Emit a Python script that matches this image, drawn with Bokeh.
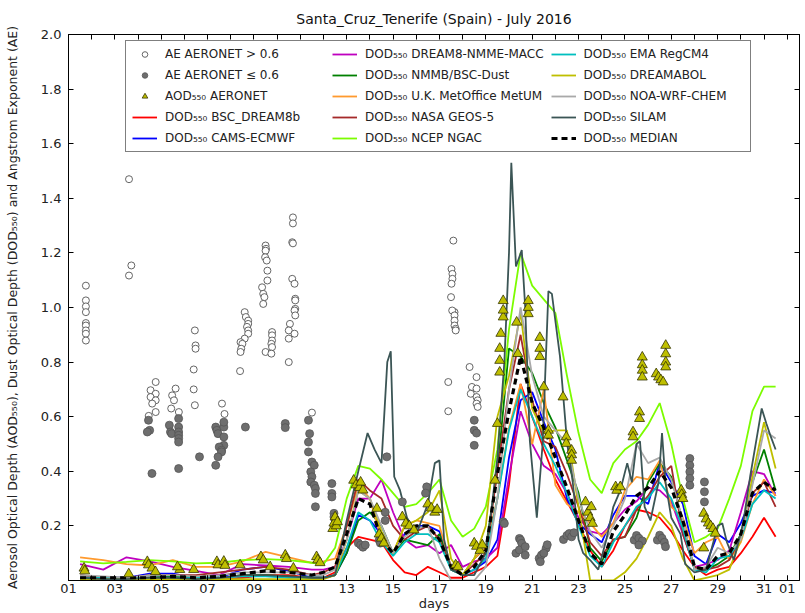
from bokeh.plotting import figure
from bokeh.models import (Range1d, FixedTicker, Legend, LegendItem, LinearAxis,
                          PrintfTickFormatter)
from bokeh.embed import file_html
from bokeh.resources import INLINE

FONT = "DejaVu Sans"

# ---------------- data ----------------
# common time grid (day of July 2016)
days = [1.5, 2.5, 3.5, 4.5, 5.5, 6.5, 7.5, 8.5, 9.5, 10.5, 11.5,
        12, 12.5, 13, 13.5, 14, 14.5, 15, 15.5, 16, 16.5, 17, 17.5, 18, 18.5,
        19, 19.5, 20, 20.5, 21, 21.5, 22, 22.5, 23, 23.5, 24, 24.5, 25, 25.5,
        26, 26.5, 27, 27.5, 28, 28.5, 29, 29.5, 30, 30.5, 31, 31.5]

dod_bsc_dream8b = [0.01, 0.005, 0.005, 0.01, 0.01, 0.005, 0.005, 0.01, 0.02, 0.02, 0.01,
                   0.01, 0.03, 0.12, 0.16, 0.15, 0.14, 0.075, 0.03, 0.02, 0.05, 0.03, 0.01, 0.01, 0.03,
                   0.05, 0.09, 0.35, 0.72, 0.6, 0.48, 0.37, 0.29, 0.21, 0.11, 0.05, 0.11, 0.2, 0.26,
                   0.25, 0.23, 0.18, 0.11, 0.05, 0.02, 0.04, 0.05, 0.1, 0.16, 0.23, 0.16]
dod_cams = [0.01, 0.01, 0.01, 0.025, 0.025, 0.01, 0.01, 0.04, 0.05, 0.035, 0.01,
            0.01, 0.02, 0.1, 0.24, 0.22, 0.17, 0.1, 0.17, 0.2, 0.2, 0.18, 0.05, 0.02, 0.04,
            0.07, 0.15, 0.45, 0.66, 0.69, 0.58, 0.48, 0.3, 0.21, 0.17, 0.14, 0.24, 0.31, 0.31,
            0.28, 0.43, 0.36, 0.28, 0.09, 0.06, 0.17, 0.14, 0.21, 0.31, 0.33, 0.32]
dod_dream8_macc = [0.06, 0.04, 0.085, 0.07, 0.05, 0.035, 0.02, 0.06, 0.055, 0.05, 0.04,
                   0.04, 0.05, 0.15, 0.3, 0.3, 0.37, 0.25, 0.15, 0.12, 0.13, 0.1, 0.13, 0.05, 0.07,
                   0.08, 0.12, 0.38, 0.62, 0.5, 0.42, 0.39, 0.32, 0.23, 0.18, 0.17, 0.21, 0.26, 0.29,
                   0.34, 0.33, 0.29, 0.17, 0.05, 0.06, 0.075, 0.11, 0.25, 0.4, 0.39, 0.31]
dod_nmmb = [0.005, 0.005, 0.005, 0.01, 0.015, 0.01, 0.01, 0.02, 0.02, 0.015, 0.01,
            0.01, 0.02, 0.1, 0.22, 0.25, 0.2, 0.1, 0.15, 0.14, 0.13, 0.17, 0.04, 0.02, 0.08,
            0.12, 0.4, 0.85, 0.82, 0.76, 0.65, 0.56, 0.44, 0.32, 0.12, 0.07, 0.15, 0.16, 0.23,
            0.36, 0.43, 0.38, 0.21, 0.04, 0.04, 0.06, 0.09, 0.17, 0.36, 0.48, 0.33]
dod_metum = [0.085, 0.075, 0.06, 0.055, 0.075, 0.05, 0.05, 0.07, 0.105, 0.085, 0.065,
             0.07, 0.08, 0.2, 0.35, 0.3, 0.15, 0.1, 0.2, 0.22, 0.21, 0.2, 0.05, 0.02, 0.08,
             0.12, 0.3, 0.56, 0.72, 0.5, 0.7, 0.35, 0.28, 0.25, 0.21, 0.16, 0.21, 0.33, 0.38,
             0.37, 0.44, 0.27, 0.23, 0.1, 0.14, 0.16, 0.075, 0.14, 0.28, 0.37, 0.31]
dod_geos5 = [0.02, 0.01, 0.01, 0.02, 0.02, 0.02, 0.03, 0.04, 0.05, 0.04, 0.02,
             0.03, 0.05, 0.2, 0.37, 0.33, 0.3, 0.2, 0.15, 0.18, 0.2, 0.15, 0.05, 0.02, 0.06,
             0.1, 0.4, 0.7, 0.9, 0.66, 0.51, 0.49, 0.39, 0.27, 0.14, 0.09, 0.15, 0.16, 0.26,
             0.31, 0.38, 0.42, 0.17, 0.05, 0.04, 0.05, 0.075, 0.16, 0.32, 0.36, 0.27]
dod_ngac = [0.07, 0.063, 0.068, 0.075, 0.07, 0.063, 0.065, 0.075, 0.078, 0.075, 0.065,
            0.06, 0.12, 0.3, 0.42, 0.41, 0.37, 0.32, 0.27, 0.28, 0.32, 0.37, 0.22, 0.16, 0.19,
            0.27, 0.48, 0.92, 1.2, 1.08, 1.03, 0.98, 0.75, 0.54, 0.37, 0.32, 0.43, 0.48, 0.51,
            0.57, 0.65, 0.5, 0.3, 0.14, 0.16, 0.19, 0.3, 0.42, 0.62, 0.71, 0.71]
dod_regcm4 = [0.01, 0.01, 0.01, 0.01, 0.01, 0.01, 0.01, 0.015, 0.015, 0.01, 0.01,
              0.01, 0.02, 0.12, 0.25, 0.22, 0.14, 0.09, 0.14, 0.17, 0.17, 0.14, 0.04, 0.02, 0.04,
              0.08, 0.3, 0.55, 0.7, 0.6, 0.5, 0.42, 0.32, 0.2, 0.09, 0.05, 0.14, 0.2, 0.27,
              0.3, 0.36, 0.3, 0.19, 0.04, 0.03, 0.08, 0.09, 0.15, 0.28, 0.33, 0.3]
dod_dreamabol = [0.005, 0.005, 0.005, 0.005, 0.005, 0.005, 0.005, 0.005, 0.005, 0.005, 0.005,
                 0.005, 0.02, 0.15, 0.33, 0.3, 0.18, 0.1, 0.2, 0.22, 0.25, 0.33, 0.08, 0.02, 0.08,
                 0.2, 0.6, 0.75, 0.98, 0.63, 0.54, 0.55, 0.55, 0.27, 0.0, 0.0, 0.0, 0.03, 0.08,
                 0.16, 0.25, 0.2, 0.08, 0.0, 0.01, 0.02, 0.04, 0.15, 0.38, 0.58, 0.41]
dod_noa_wrf = [0.02, 0.015, 0.01, 0.02, 0.02, 0.015, 0.02, 0.03, 0.03, 0.03, 0.02,
               0.02, 0.04, 0.15, 0.33, 0.3, 0.2, 0.1, 0.16, 0.19, 0.2, 0.08, 0.0, 0.0, 0.0,
               0.05, 0.3, 0.7, 1.0, 0.75, 0.6, 0.55, 0.5, 0.3, 0.18, 0.12, 0.2, 0.3, 0.5,
               0.43, 0.45, 0.37, 0.22, 0.04, 0.05, 0.12, 0.1, 0.15, 0.35, 0.55, 0.52]
dod_median = [0.01, 0.01, 0.01, 0.01, 0.015, 0.01, 0.015, 0.025, 0.035, 0.03, 0.02,
              0.03, 0.05, 0.17, 0.3, 0.28, 0.15, 0.1, 0.17, 0.2, 0.2, 0.15, 0.05, 0.02, 0.05,
              0.11, 0.39, 0.62, 0.82, 0.65, 0.56, 0.45, 0.34, 0.22, 0.1, 0.06, 0.18, 0.24, 0.31,
              0.34, 0.4, 0.34, 0.22, 0.05, 0.04, 0.09, 0.1, 0.17, 0.32, 0.36, 0.33]

# SILAM has sharper features: its own time points
silam_days = [1.5, 2.5, 3.5, 4.5, 5.5, 6.5, 7.5, 8.5, 9.5, 10.5, 11.5,
              12, 12.5, 13, 13.5, 13.9, 14.2, 14.5, 14.75, 14.9, 15.05, 15.3, 15.6, 16,
              16.5, 16.8, 17, 17.2, 17.5, 18, 18.5, 19, 19.3, 19.5, 19.8, 20.0, 20.1,
              20.3, 20.55, 20.7, 20.9, 21.2, 21.45, 21.7, 21.85, 22.2, 22.5, 22.75, 23.0,
              23.2, 23.5, 23.85, 24.2, 24.5, 24.8, 25.1, 25.3, 25.5, 25.65, 25.85, 26.1,
              26.45, 26.6, 26.75, 27.0, 27.4, 27.6, 28.0, 28.5, 29.0, 29.2, 29.4, 29.7,
              30.1, 30.4, 30.7, 30.9, 31.1, 31.3, 31.5]
dod_silam = [0.01, 0.005, 0.005, 0.01, 0.01, 0.005, 0.01, 0.02, 0.02, 0.015, 0.01,
             0.01, 0.02, 0.22, 0.4, 0.54, 0.48, 0.43, 0.8, 0.84, 0.38, 0.33, 0.23, 0.17,
             0.28, 0.43, 0.44, 0.15, 0.04, 0.02, 0.02, 0.1, 0.3, 0.45, 0.8, 1.2, 1.53,
             1.15, 1.21, 1.0, 0.51, 0.23, 0.5, 1.06, 1.05, 0.82, 0.51, 0.36, 0.15,
             0.1, 0.075, 0.04, 0.15, 0.27, 0.33, 0.43, 0.36, 0.5, 0.51, 0.27, 0.22,
             0.36, 0.54, 0.36, 0.23, 0.17, 0.06, 0.03, 0.04, 0.2, 0.21, 0.14, 0.075,
             0.21, 0.38, 0.53, 0.63, 0.575, 0.525, 0.48]

# AERONET Angstrom exponent > 0.6 (open circles)
ae_high_days = [1.75, 1.75, 1.75, 1.75, 1.75, 1.75, 1.75, 1.75, 1.75,
                3.61, 3.71, 3.61,
                4.76, 4.54, 4.76, 4.54, 4.76, 4.61, 4.76, 4.46,
                5.62, 5.47, 5.55, 5.43, 5.76,
                6.45, 6.48, 6.48, 6.4, 6.4, 6.45,
                7.62, 7.73,
                8.6, 8.65, 8.75, 8.75, 8.7, 8.75, 8.75, 8.6, 8.42, 8.5, 8.45, 8.42, 8.4,
                9.5, 9.52, 9.5, 9.48, 9.55, 9.58, 9.58, 9.35, 9.4, 9.45, 9.4, 9.78, 9.78, 9.78, 9.75, 9.78, 9.5, 9.75,
                10.68, 10.68, 10.65, 10.68, 10.65, 10.75, 10.78, 10.78, 10.78, 10.75, 10.78, 10.55, 10.5, 10.75, 10.5, 10.5,
                11.5,
                17.6, 17.52, 17.56, 17.56, 17.52, 17.5, 17.65, 17.55, 17.65, 17.65, 17.65, 17.7, 17.7, 17.38, 17.38,
                18.3, 18.6, 18.4, 18.6, 18.35, 18.6, 18.65, 18.6, 18.65]
ae_high_vals = [1.08, 1.026, 1.004, 0.983, 0.943, 0.934, 0.916, 0.904, 0.879,
                1.47, 1.154, 1.117,
                0.727, 0.697, 0.684, 0.672, 0.66, 0.648, 0.617, 0.603,
                0.703, 0.678, 0.66, 0.63, 0.617,
                0.916, 0.861, 0.849, 0.773, 0.7, 0.642,
                0.648, 0.61,
                0.983, 0.965, 0.952, 0.94, 0.929, 0.916, 0.904, 0.886, 0.873, 0.867, 0.849, 0.837, 0.767,
                1.227, 1.215, 1.208, 1.184, 1.172, 1.135, 1.099, 1.074, 1.05, 1.038, 1.013, 0.91, 0.898, 0.879, 0.867, 0.855, 0.837, 0.831,
                1.33, 1.308, 1.239, 1.235, 1.105, 1.087, 1.032, 1.026, 0.995, 0.989, 0.971, 0.94, 0.916, 0.904, 0.886, 0.8,
                0.615,
                1.245, 1.141, 1.123, 1.105, 1.087, 1.038, 0.983, 0.989, 0.971, 0.952, 0.934, 0.922, 0.916, 0.727, 0.62,
                0.782, 0.745, 0.709, 0.703, 0.684, 0.672, 0.66, 0.648, 0.636]

# AERONET Angstrom exponent <= 0.6 (filled circles)
ae_low_days = [4.45, 4.5, 4.4, 4.6,
               5.35, 5.4, 5.45, 5.75, 5.75, 5.75, 5.75, 5.75, 5.75, 5.75,
               6.65,
               7.35, 7.4, 7.45, 7.7, 7.7, 7.5, 7.6, 7.6, 7.45, 7.35, 7.7, 7.7,
               8.63, 10.35, 10.35,
               11.35, 11.4, 11.35, 11.35, 11.5, 11.6, 11.45, 11.5, 11.45, 11.6, 11.65, 11.65, 11.65,
               12.36, 12.36, 12.36, 12.45, 12.45, 12.5,
               13.5, 13.6, 13.7, 13.8,
               14.73, 14.66, 14.66, 14.4, 14.45,
               15.4, 16.45, 16.4,
               18.5, 18.5, 18.6, 18.5,
               19.75, 19.8, 20.3,
               20.45, 20.5, 20.55, 20.45, 20.7, 20.7,
               21.3, 21.4, 21.6, 21.65, 21.35, 21.5,
               22.35, 22.5, 22.6, 22.7, 22.8,
               25.4, 25.5, 25.6, 25.75, 25.6,
               26.4, 26.5, 26.6, 26.7, 26.75,
               27.8, 27.8, 27.8, 27.8, 27.8,
               28.43, 28.43, 28.43]
ae_low_vals = [0.587, 0.55, 0.544, 0.392,
               0.569, 0.544, 0.538, 0.593, 0.562, 0.544, 0.532, 0.52, 0.507, 0.41,
               0.453,
               0.562, 0.55, 0.538, 0.526, 0.495, 0.489, 0.477, 0.471, 0.453, 0.422, 0.562, 0.58,
               0.562, 0.575, 0.56,
               0.587, 0.538, 0.507, 0.471, 0.434, 0.422, 0.398, 0.38, 0.361, 0.349, 0.337, 0.319, 0.27,
               0.355, 0.319, 0.306, 0.246, 0.233, 0.221,
               0.137, 0.13, 0.122, 0.13,
               0.453, 0.25, 0.22, 0.148, 0.137,
               0.288, 0.343, 0.32,
               0.587, 0.55, 0.54, 0.495,
               0.215, 0.209, 0.1,
               0.154, 0.148, 0.136, 0.112, 0.124, 0.093,
               0.081, 0.093, 0.118, 0.131, 0.069, 0.1,
               0.15, 0.165, 0.172, 0.16, 0.175,
               0.148, 0.165, 0.155, 0.145, 0.13,
               0.148, 0.166, 0.155, 0.14, 0.124,
               0.447, 0.422, 0.398, 0.374, 0.349,
               0.361, 0.325, 0.288]

# AERONET AOD 550 (triangles)
aod_days = [1.67, 1.7, 3.6, 4.4, 4.45, 4.6, 4.75, 5.8, 5.7, 6.4, 7.4, 7.45, 7.7, 7.75, 8.4,
            9.3, 9.4, 9.7, 10.35, 10.4, 10.7, 11.7, 11.75, 11.85,
            12.4, 12.45, 12.5, 12.55, 12.6,
            13.3, 13.4, 13.55, 13.7, 13.6,
            14.3, 14.4, 14.5, 14.6,
            15.4, 15.55, 15.7, 15.9,
            16.5, 16.65, 16.8, 16.9,
            17.7, 17.8,
            18.5, 18.6, 18.75, 18.85,
            19.4, 19.5, 19.6, 19.6, 19.6, 19.65, 19.75, 19.75, 19.75,
            20.33, 20.38, 20.83, 20.83, 20.83,
            21.33, 21.33, 21.33, 21.5, 21.7, 21.7,
            22.33, 22.47, 22.47, 22.7, 22.7, 22.7,
            23.3, 23.4, 23.5, 23.6, 23.55,
            24.6, 24.65, 24.8,
            25.35, 25.35, 25.63, 25.63, 25.75, 25.75, 25.75, 25.75,
            26.35, 26.45, 26.55, 26.65, 26.76, 26.76, 26.76, 26.76,
            27.43, 27.45, 27.5,
            28.4, 28.5, 28.6, 28.7, 28.8, 28.9, 28.4]
aod_vals = [0.045, 0.035, 0.024, 0.069, 0.057, 0.045, 0.032, 0.04, 0.05, 0.04, 0.069, 0.057, 0.07, 0.055, 0.057,
            0.087, 0.075, 0.05, 0.093, 0.08, 0.045, 0.087, 0.075, 0.065,
            0.19, 0.21, 0.233, 0.2, 0.215,
            0.367, 0.35, 0.34, 0.331, 0.36,
            0.264, 0.17, 0.155, 0.137,
            0.233, 0.21, 0.2, 0.185,
            0.28, 0.265, 0.25, 0.26,
            0.057, 0.05,
            0.137, 0.125, 0.11, 0.13,
            0.367, 0.575, 0.763, 0.806, 0.85, 0.905, 0.965, 0.99, 1.025,
            0.946, 0.831, 0.977, 1.0, 1.025,
            0.89, 0.85, 0.82, 0.709, 0.55, 0.532,
            0.672, 0.526, 0.502, 0.477, 0.46, 0.44,
            0.288, 0.25, 0.23, 0.209, 0.27,
            0.343, 0.33, 0.343,
            0.544, 0.526, 0.617, 0.593, 0.818, 0.79, 0.77, 0.745,
            0.757, 0.745, 0.735, 0.727, 0.861, 0.83, 0.8, 0.782,
            0.331, 0.315, 0.30,
            0.246, 0.225, 0.21, 0.2, 0.19, 0.173, 0.119]

x_label_days = [1, 3, 5, 7, 9, 11, 13, 15, 17, 19, 21, 23, 25, 27, 29, 31, 32]
x_tick_labels = ["01", "03", "05", "07", "09", "11", "13", "15", "17", "19", "21", "23",
                 "25", "27", "29", "31", "01"]
x_minor_days = list(range(1, 33))
y_tick_vals = [0.2, 0.4, 0.6, 0.8, 1.0, 1.2, 1.4, 1.6, 1.8, 2.0]

SUB = "DOD\u2085\u2085\u2080 "
# (label, values, colour)
model_lines = [
    ("BSC_DREAM8b", dod_bsc_dream8b, "#FF0000"),
    ("CAMS-ECMWF", dod_cams, "#0000FF"),
    ("DREAM8-NMME-MACC", dod_dream8_macc, "#BF00BF"),
    ("NMMB/BSC-Dust", dod_nmmb, "#008000"),
    ("U.K. MetOffice MetUM", dod_metum, "#FF9A2E"),
    ("NASA GEOS-5", dod_geos5, "#A52A2A"),
    ("NCEP NGAC", dod_ngac, "#7CFC00"),
    ("EMA RegCM4", dod_regcm4, "#00BFBF"),
    ("DREAMABOL", dod_dreamabol, "#BFBF00"),
    ("NOA-WRF-CHEM", dod_noa_wrf, "#A9A9A9"),
]

# ---------------- figure ----------------
FRAME_H = 546
LEG_H = 114
p = figure(frame_width=731, frame_height=FRAME_H, output_backend="svg", toolbar_location=None,
           x_range=Range1d(1, 32.53), y_range=Range1d(0, 2.0),
           min_border_left=68, min_border_right=5, min_border_top=33, min_border_bottom=32)
p.title.text = "Santa_Cruz_Tenerife (Spain) - July 2016"
p.title.align = "center"
p.title.text_font = FONT
p.title.text_font_size = "14px"
p.title.text_font_style = "normal"
p.title.text_color = "#111111"
p.title.standoff = 16
p.grid.visible = False
p.outline_line_color = "black"
p.outline_line_alpha = 1.0
p.background_fill_color = "white"
p.border_fill_color = "white"

xa = p.xaxis[0]
xa.ticker = FixedTicker(ticks=x_label_days, minor_ticks=x_minor_days)
xa.major_label_overrides = {d: lab for d, lab in zip(x_label_days, x_tick_labels)}
xa.axis_label = "days"
ya = p.yaxis[0]
ya.ticker = FixedTicker(ticks=y_tick_vals)
ya.formatter = PrintfTickFormatter(format="%.1f")
ya.axis_label = ("Aerosol Optical Depth (AOD\u2085\u2085\u2080), Dust Optical Depth "
                 "(DOD\u2085\u2085\u2080) and Angstrom Exponent (AE)")
for ax in (xa, ya):
    ax.major_tick_in = 5
    ax.major_tick_out = 0
    ax.minor_tick_in = 5
    ax.minor_tick_out = 0
    ax.axis_line_color = "black"
    ax.major_label_text_font = FONT
    ax.major_label_text_font_size = "13px"
    ax.major_label_text_color = "#222222"
    ax.axis_label_text_font = FONT
    ax.axis_label_text_font_style = "normal"
    ax.axis_label_text_color = "#222222"
xa.major_label_standoff = 3
xa.axis_label_standoff = 0
xa.axis_label_text_font_size = "13px"
ya.major_label_standoff = 7
ya.axis_label_standoff = 18
ya.axis_label_text_font_size = "12.5px"

# tick marks on the right and top sides (minor ticks only: no labels)
ra = LinearAxis(ticker=FixedTicker(ticks=[], minor_ticks=y_tick_vals),
                minor_tick_in=5, minor_tick_out=0, major_tick_out=0,
                major_label_standoff=0)
p.add_layout(ra, "right")
ta = LinearAxis(ticker=FixedTicker(ticks=[], minor_ticks=x_minor_days),
                minor_tick_in=5, minor_tick_out=0, major_tick_out=0,
                major_label_standoff=0)
p.add_layout(ta, "above")

items_lines = []
for name, vals, col in model_lines:
    r = p.line(days, vals, line_color=col, line_width=1.8)
    items_lines.append(LegendItem(label=SUB + name, renderers=[r]))
r_silam = p.line(silam_days, dod_silam, line_color="#3B5555", line_width=1.8)
r_med = p.line(days, dod_median, line_color="black", line_width=3.2, line_dash="6 4")

r_hi = p.scatter(ae_high_days, ae_high_vals, marker="circle", size=7,
                 fill_color="white", line_color="#555555", line_width=0.9)
r_lo = p.scatter(ae_low_days, ae_low_vals, marker="circle", size=8,
                 fill_color="#6E6E6E", line_color="#555555", line_width=0.8)
r_aod = p.scatter(aod_days, aod_vals, marker="triangle", size=10,
                  fill_color="#BFBF00", line_color="#333300", line_width=0.8)

legend_items = [
    LegendItem(label="AE AERONET > 0.6", renderers=[r_hi]),
    LegendItem(label="AE AERONET \u2264 0.6", renderers=[r_lo]),
    LegendItem(label="AOD\u2085\u2085\u2080 AERONET", renderers=[r_aod]),
    items_lines[0], items_lines[1],
    items_lines[2], items_lines[3], items_lines[4], items_lines[5], items_lines[6],
    items_lines[7], items_lines[8], items_lines[9],
    LegendItem(label=SUB + "SILAM", renderers=[r_silam]),
    LegendItem(label=SUB + "MEDIAN", renderers=[r_med]),
]
legend = Legend(items=legend_items, nrows=5, ncols=3, orientation="vertical",
                location=(57, FRAME_H - 4 - LEG_H), margin=0,
                label_text_font=FONT, label_text_font_size="12px",
                label_text_color="#222222", label_width=160,
                glyph_width=25, glyph_height=14, label_standoff=8, spacing=7, padding=6,
                border_line_color="black", border_line_width=1,
                background_fill_color="white", background_fill_alpha=1.0)
p.add_layout(legend, "center")

open("out.html", "w").write(file_html(p, INLINE))
